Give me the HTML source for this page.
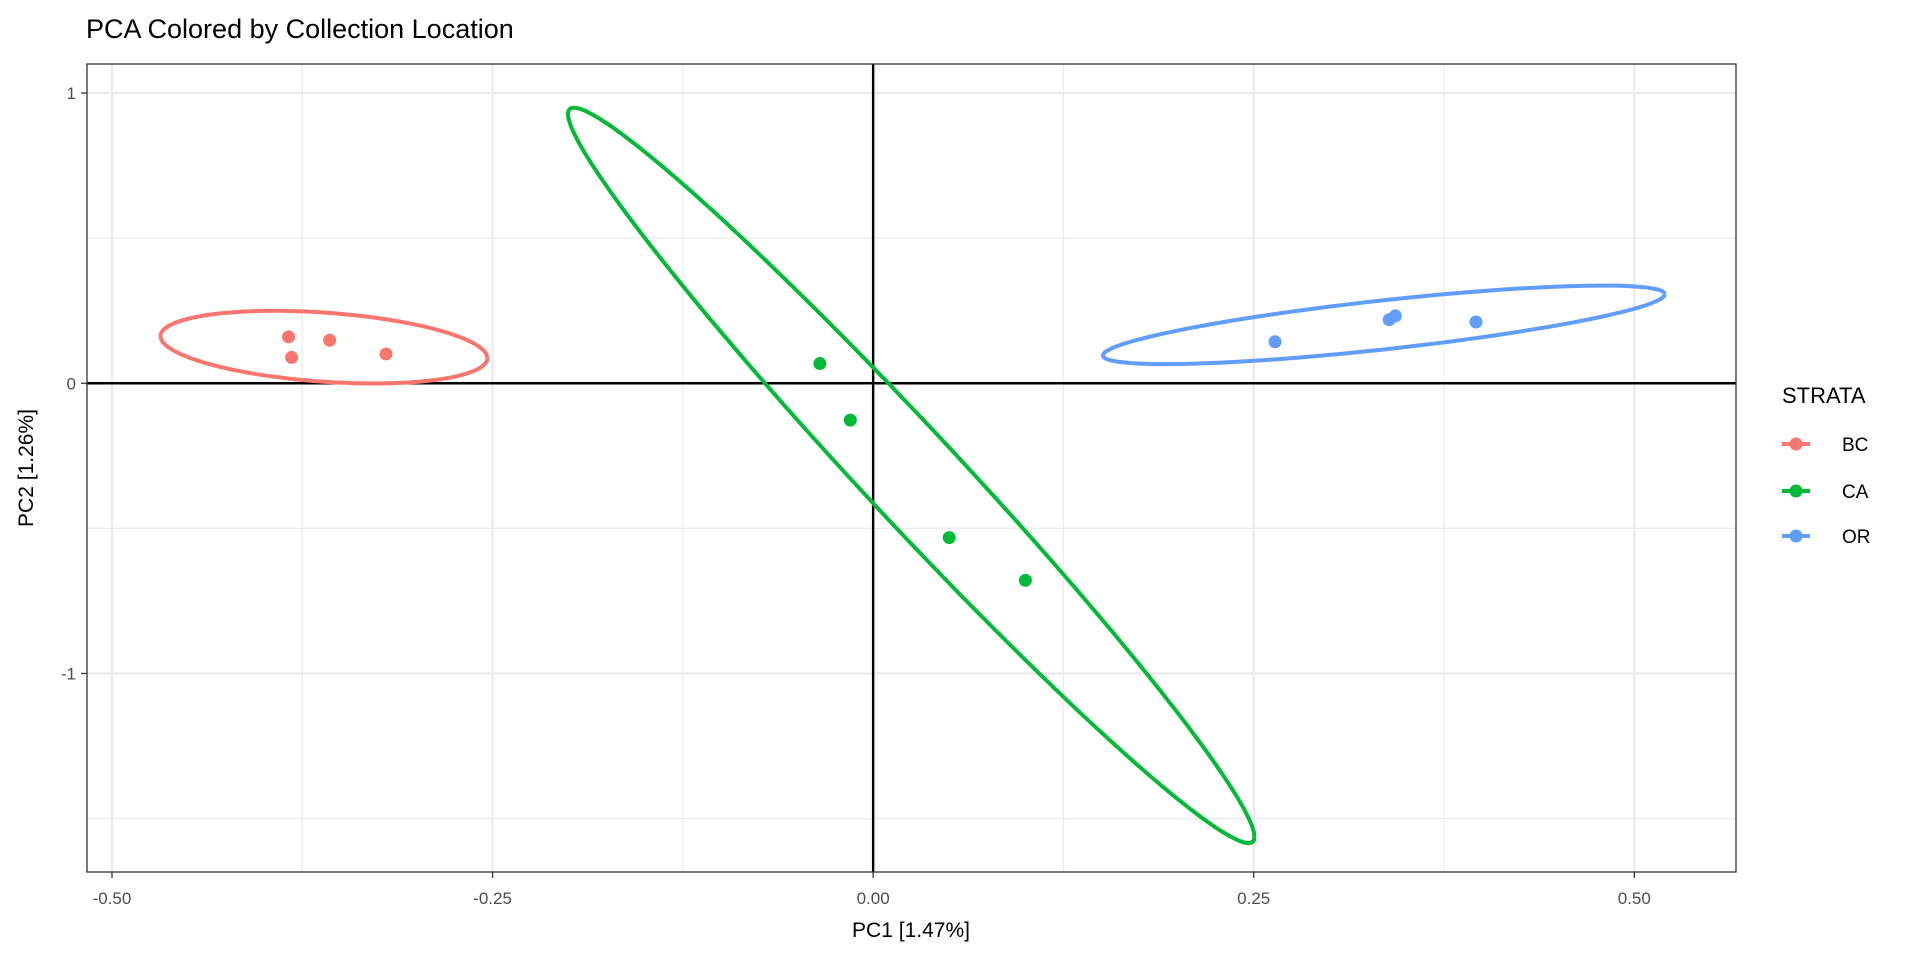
<!DOCTYPE html>
<html><head><meta charset="utf-8"><style>
body{margin:0;background:#fff;}
svg{display:block;font-family:"Liberation Sans",sans-serif;}
</style></head><body>
<svg id="chart" width="1920" height="960" viewBox="0 0 1920 960"></svg>
<script>
const groups = ["BC","CA","OR"];
const colors = ["#F8766D","#00BA38","#619CFF"];
const bcX = [-0.384,-0.382,-0.357,-0.320];
const bcY = [0.160,0.089,0.148,0.101];
const caX = [-0.035,-0.015,0.050,0.100];
const caY = [0.068,-0.127,-0.532,-0.679];
const orX = [0.264,0.339,0.343,0.396];
const orY = [0.143,0.219,0.232,0.211];
const xTicks = [-0.5,-0.25,0,0.25,0.5];
const xTickLabels = ["-0.50","-0.25","0.00","0.25","0.50"];
const yTicks = [-1,0,1];
const yTickLabels = ["-1","0","1"];

const NS="http://www.w3.org/2000/svg";
const svg=document.getElementById('chart');
const L=87,R=1736,T=64,B=872;
const xMin=-0.5164,xMax=0.5668,yMin=-1.684,yMax=1.100;
const sx=v=>L+(v-xMin)/(xMax-xMin)*(R-L);
const sy=v=>B-(v-yMin)/(yMax-yMin)*(B-T);
function mk(tag,attrs,parent){const e=document.createElementNS(NS,tag);for(const k in attrs)e.setAttribute(k,attrs[k]);(parent||svg).appendChild(e);return e;}

const panel=mk('rect',{x:L,y:T,width:R-L,height:B-T,fill:'#fff'});


const gridG=mk('g',{});


for(let i=0;i<xTicks.length-1;i++){const m=(xTicks[i]+xTicks[i+1])/2;mk('line',{x1:sx(m),x2:sx(m),y1:T,y2:B,stroke:'#ebebeb','stroke-width':1.2},gridG);}
for(let i=0;i<yTicks.length-1;i++){const m=(yTicks[i]+yTicks[i+1])/2;mk('line',{y1:sy(m),y2:sy(m),x1:L,x2:R,stroke:'#ebebeb','stroke-width':1.2},gridG);}
mk('line',{y1:sy(-1.5),y2:sy(-1.5),x1:L,x2:R,stroke:'#ebebeb','stroke-width':1.2},gridG);
xTicks.forEach(v=>mk('line',{x1:sx(v),x2:sx(v),y1:T,y2:B,stroke:'#ebebeb','stroke-width':2.4},gridG));
yTicks.forEach(v=>mk('line',{y1:sy(v),y2:sy(v),x1:L,x2:R,stroke:'#ebebeb','stroke-width':2.4},gridG));
const hz=mk('line',{x1:L,x2:R,y1:sy(0),y2:sy(0),stroke:'#000','stroke-width':2.4});


const vz=mk('line',{x1:sx(0),x2:sx(0),y1:T,y2:B,stroke:'#000','stroke-width':2.4});



const data=[[bcX,bcY],[caX,caY],[orX,orY]];
const RADS=[3.6,3.65,3.4];
data.forEach((d,gi)=>{
  const xs=d[0],ys=d[1],n=xs.length,RAD=RADS[gi];
  const mx=xs.reduce((a,b)=>a+b,0)/n,my=ys.reduce((a,b)=>a+b,0)/n;
  let sxx=0,syy=0,sxy=0;
  for(let i=0;i<n;i++){sxx+=(xs[i]-mx)**2;syy+=(ys[i]-my)**2;sxy+=(xs[i]-mx)*(ys[i]-my);}
  sxx/=n-1;syy/=n-1;sxy/=n-1;
  const a=Math.sqrt(Math.max(sxx,1e-12)),c=sxy/a,b=Math.sqrt(Math.max(syy-c*c,1e-12));
  let pts=[];
  for(let k=0;k<=100;k++){const t=k/100*2*Math.PI,u=Math.cos(t)*RAD,v=Math.sin(t)*RAD;
    pts.push(sx(mx+a*u).toFixed(1)+','+sy(my+c*u+b*v).toFixed(1));}
  const el=mk('polyline',{points:pts.join(' '),fill:'none',stroke:colors[gi],'stroke-width':4});
  
  
  for(let i=0;i<n;i++){
    const p=mk('circle',{cx:sx(xs[i]),cy:sy(ys[i]),r:6.5,fill:colors[gi]});
    
    
  }
});
const border=mk('rect',{x:L,y:T,width:R-L,height:B-T,fill:'none',stroke:'#333','stroke-width':1.3});


xTicks.forEach((v,i)=>{
  mk('line',{x1:sx(v),x2:sx(v),y1:B,y2:B+6,stroke:'#333','stroke-width':1.3});
  const t=mk('text',{x:sx(v),y:904,'text-anchor':'middle','font-size':17,fill:'#4d4d4d'});
  t.textContent=xTickLabels[i];
  
  
});
yTicks.forEach((v,i)=>{
  mk('line',{x1:L-6,x2:L,y1:sy(v),y2:sy(v),stroke:'#333','stroke-width':1.3});
  const t=mk('text',{x:L-11,y:sy(v)+6,'text-anchor':'end','font-size':17,fill:'#4d4d4d'});
  t.textContent=yTickLabels[i];
  
  
});
</script>
<svg style="position:absolute;left:0;top:0" width="1920" height="960">
<text x="86" y="38" font-size="27" font-family="Liberation Sans, sans-serif">PCA Colored by Collection Location</text>
<text x="911" y="937" font-size="21" text-anchor="middle" font-family="Liberation Sans, sans-serif">PC1 [1.47%]</text>
<text transform="translate(33,468) rotate(-90)" font-size="21" text-anchor="middle" font-family="Liberation Sans, sans-serif">PC2 [1.26%]</text>
<text x="1782" y="403" font-size="22" font-family="Liberation Sans, sans-serif">STRATA</text>
<g><line x1="1782" x2="1810" y1="444" y2="444" stroke="#F8766D" stroke-width="4"/><circle cx="1796" cy="444" r="6.5" fill="#F8766D"/><text x="1842" y="451" font-size="19" font-family="Liberation Sans, sans-serif">BC</text></g>
<g><line x1="1782" x2="1810" y1="491" y2="491" stroke="#00BA38" stroke-width="4"/><circle cx="1796" cy="491" r="6.5" fill="#00BA38"/><text x="1842" y="498" font-size="19" font-family="Liberation Sans, sans-serif">CA</text></g>
<g><line x1="1782" x2="1810" y1="536" y2="536" stroke="#619CFF" stroke-width="4"/><circle cx="1796" cy="536" r="6.5" fill="#619CFF"/><text x="1842" y="543" font-size="19" font-family="Liberation Sans, sans-serif">OR</text></g>
</svg>
</body></html>
